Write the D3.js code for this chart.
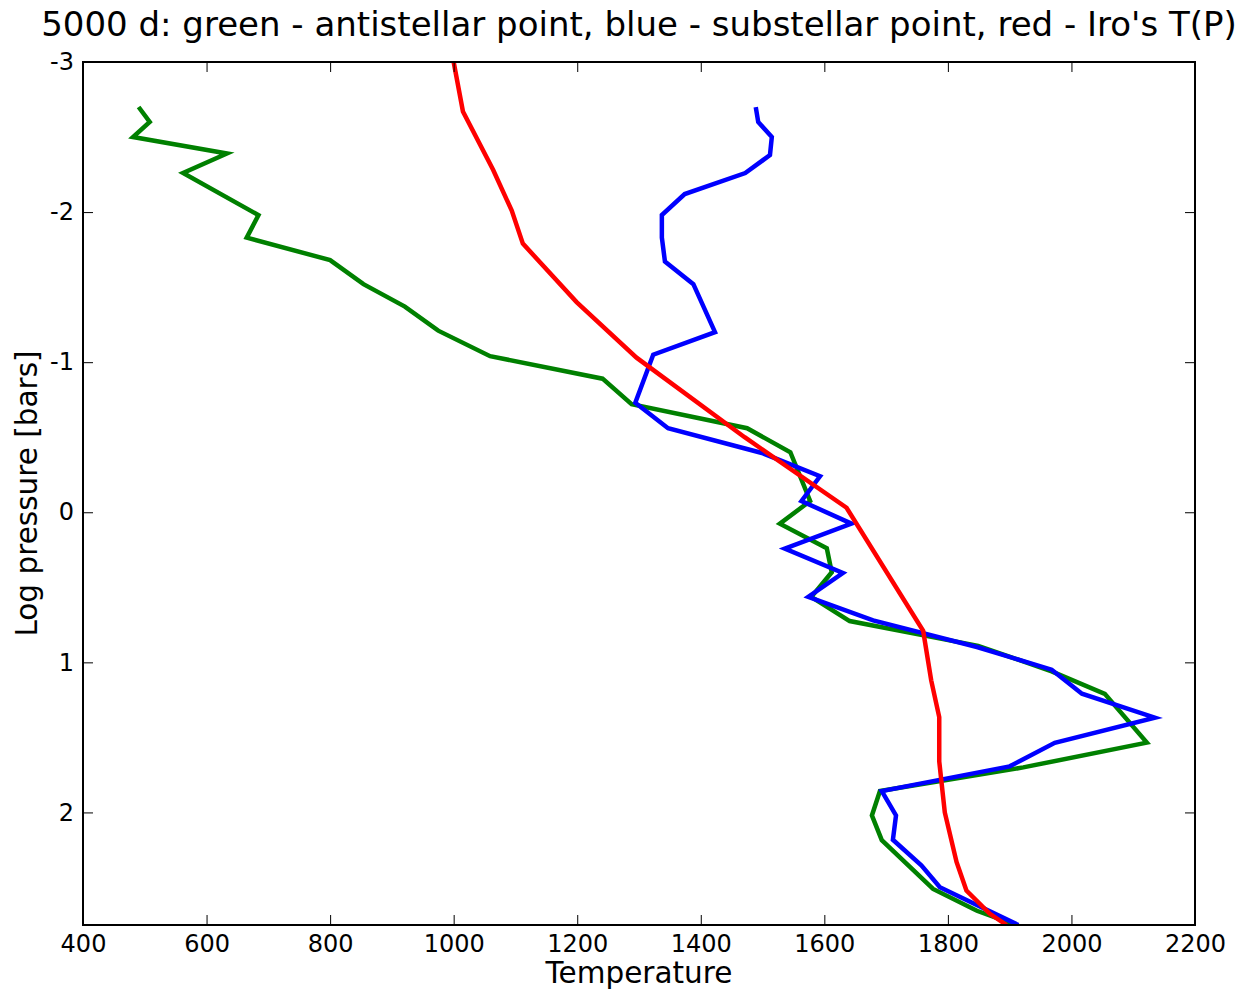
<!DOCTYPE html>
<html>
<head>
<meta charset="utf-8">
<script src="https://cdn.jsdelivr.net/npm/d3@7"></script>
<style>
  html, body { margin: 0; padding: 0; background: #fff; }
  svg { display: block; font-family: "DejaVu Sans", sans-serif; }
</style>
</head>
<body>
<svg id="chart" width="1249" height="991"></svg>
<script>
// ---- data (Temperature, log pressure) ----
const greenT = [490, 508, 481, 633, 562, 684, 665, 800, 854, 921, 975, 1059, 1241, 1288, 1475, 1545, 1577, 1528, 1604, 1612, 1579, 1641, 1849, 1968, 2054, 2122, 1922, 1690, 1677, 1693, 1776, 1847, 1910];
const greenP = [-2.70, -2.60, -2.50, -2.39, -2.26, -1.98, -1.83, -1.68, -1.52, -1.37, -1.21, -1.04, -0.89, -0.72, -0.56, -0.40, -0.075, 0.076, 0.24, 0.40, 0.564, 0.725, 0.89, 1.06, 1.21, 1.535, 1.70, 1.858, 2.02, 2.185, 2.51, 2.655, 2.75];

const blueT = [1489, 1493, 1515, 1512, 1472, 1374, 1337, 1337, 1342, 1388, 1423, 1323, 1294, 1347, 1499, 1593, 1563, 1644, 1536, 1630, 1574, 1679, 1847, 1968, 2017, 2135, 1973, 1900, 1693, 1716, 1711, 1757, 1787, 1914];
const blueP = [-2.70, -2.60, -2.50, -2.38, -2.26, -2.12, -1.98, -1.83, -1.67, -1.52, -1.20, -1.05, -0.73, -0.56, -0.395, -0.24, -0.075, 0.076, 0.242, 0.405, 0.564, 0.72, 0.898, 1.049, 1.209, 1.369, 1.536, 1.693, 1.858, 2.02, 2.182, 2.353, 2.498, 2.75];

const redT = [1000, 1015, 1064, 1094, 1112, 1199, 1296, 1471, 1636, 1760, 1773, 1786, 1786, 1795, 1814, 1830, 1868, 1895];
const redP = [-3.0, -2.67, -2.28, -2.01, -1.79, -1.40, -1.03, -0.50, -0.03, 0.79, 1.12, 1.365, 1.66, 2.0, 2.33, 2.52, 2.675, 2.75];

const xTicks = [400, 600, 800, 1000, 1200, 1400, 1600, 1800, 2000, 2200];
const yTicks = [-3, -2, -1, 0, 1, 2];

const titleText = "5000 d: green - antistellar point, blue - substellar point, red - Iro's T(P)";
const xLabel = "Temperature";
const yLabel = "Log pressure [bars]";

// ---- layout ----
const L = 83, R = 1195, T = 62, B = 925;
const svg = d3.select("#chart");

const x = d3.scaleLinear().domain([400, 2200]).range([L, R]);
const y = d3.scaleLinear().domain([-3, 2.75]).range([T, B]);

svg.append("defs").append("clipPath").attr("id", "clip")
  .append("rect").attr("x", L).attr("y", T).attr("width", R - L).attr("height", B - T);

const series = [
  { t: greenT, p: greenP, color: "#008000" },
  { t: blueT, p: blueP, color: "#0000ff" },
  { t: redT, p: redP, color: "#ff0000" }
];

const line = d3.line().x(d => x(d[0])).y(d => y(d[1]));
const gLines = svg.append("g").attr("clip-path", "url(#clip)");
series.forEach(s => {
  const pts = s.t.map((v, i) => [v, s.p[i]]);
  gLines.append("path").datum(pts)
    .attr("d", line)
    .attr("fill", "none")
    .attr("stroke", s.color)
    .attr("stroke-width", 4.5)
    .attr("stroke-linejoin", "miter");
});

// axes
const fmt = d => (d < 0 ? "-" + Math.abs(d) : String(d));
const ax = svg.append("g").attr("transform", `translate(0,${B})`)
  .call(d3.axisBottom(x).tickValues(xTicks).tickFormat(fmt).tickSize(-10).tickSizeOuter(0).tickPadding(10));
const axT = svg.append("g").attr("transform", `translate(0,${T})`)
  .call(d3.axisTop(x).tickValues(xTicks).tickFormat("").tickSize(-10).tickSizeOuter(0));
const ay = svg.append("g").attr("transform", `translate(${L},0)`)
  .call(d3.axisLeft(y).tickValues(yTicks).tickFormat(fmt).tickSize(-10).tickSizeOuter(0).tickPadding(9));
const ayR = svg.append("g").attr("transform", `translate(${R},0)`)
  .call(d3.axisRight(y).tickValues(yTicks).tickFormat("").tickSize(-10).tickSizeOuter(0));

[ax, axT, ay, ayR].forEach(g => {
  g.select(".domain").remove();
  g.selectAll(".tick line").attr("stroke", "#000").attr("stroke-width", 1);
  g.selectAll(".tick text").attr("fill", "#000")
    .style("font-family", "'DejaVu Sans', sans-serif").style("font-size", "24px");
});

svg.append("rect").attr("x", L).attr("y", T).attr("width", R - L).attr("height", B - T)
  .attr("fill", "none").attr("stroke", "#000").attr("stroke-width", 2);

// texts
svg.append("text").attr("x", (L + R) / 2).attr("y", 36).attr("text-anchor", "middle")
  .style("font-size", "34px").attr("fill", "#000").text(titleText);
svg.append("text").attr("x", (L + R) / 2).attr("y", 983).attr("text-anchor", "middle")
  .style("font-size", "29.5px").attr("fill", "#000").text(xLabel);
svg.append("text").attr("transform", `translate(37,${(T + B) / 2}) rotate(-90)`).attr("text-anchor", "middle")
  .style("font-size", "29.5px").attr("fill", "#000").text(yLabel);
</script>
</body>
</html>
